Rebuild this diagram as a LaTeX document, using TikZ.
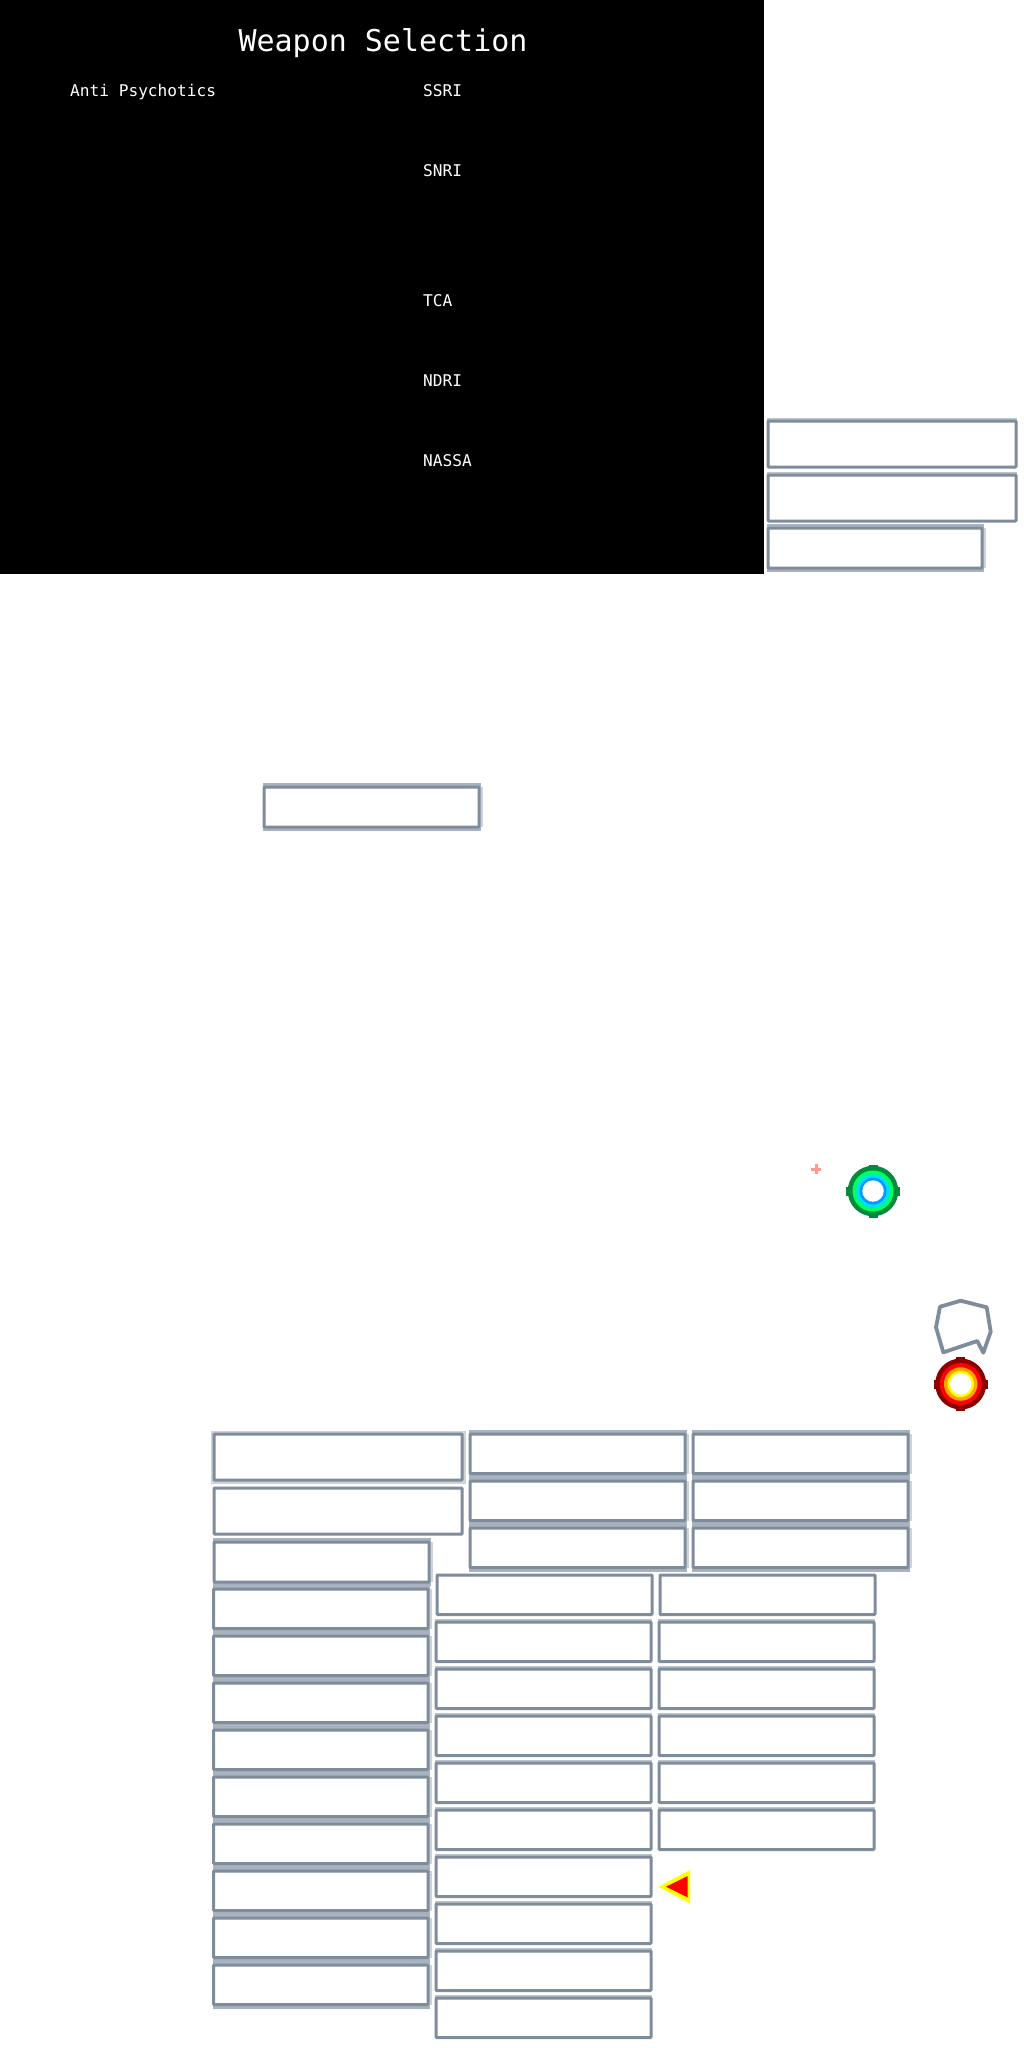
\documentclass[tikz,border=0pt]{standalone}
\usepackage{fontspec}
\setmonofont{DejaVu Sans Mono}
\definecolor{edgeblue}{HTML}{7F8C9C}
\definecolor{halodark}{HTML}{A8B3BF}
\definecolor{halolight}{HTML}{CCD3DA}
\definecolor{halomid}{HTML}{BCC5CE}
\definecolor{plusred}{HTML}{FF9A90}
\definecolor{tgdark}{HTML}{008C3C}
\definecolor{tgbright}{HTML}{00FF66}
\definecolor{tgcyan}{HTML}{00DDFF}
\definecolor{tgblue}{HTML}{0099FF}
\definecolor{trdark}{HTML}{8B0000}
\definecolor{trred}{HTML}{FF0000}
\definecolor{trorange}{HTML}{FFA500}
\definecolor{tryellow}{HTML}{FFFF00}
\tikzset{
  boxnode/.style={draw=edgeblue,fill=white,line width=3pt,rectangle,inner sep=0pt,outer sep=0pt,rounded corners=0.8pt},
  labeltext/.style={anchor=base west,inner sep=0pt,text=white,font=\ttfamily\fontsize{16.15}{18}\selectfont},
  titletext/.style={anchor=base,inner sep=0pt,text=white,font=\ttfamily\fontsize{30}{36}\selectfont},
  disc/.style={circle,inner sep=0pt,outer sep=0pt},
  tick/.style={line width=9pt},
  outline/.style={draw=edgeblue,line width=3.8pt,line join=round,fill=white}
}
% strong halo: dark bands above and below, pale band at right
\newcommand{\boxS}[5]{%
  \fill[halolight] (#2,#3) rectangle (#4+3.5,#5);
  \fill[halodark] (#2-1,#3-4) rectangle (#4+2,#3);
  \fill[halodark] (#2-1,#5) rectangle (#4+2,#5+4);
  \node[boxnode,minimum width={(#4-#2)*1pt},minimum height={(#5-#3)*1pt}] (#1) at ({(#2+#4)/2},{(#3+#5)/2}) {};}
% mild halo: band above only
\newcommand{\boxM}[5]{%
  \fill[halomid] (#2-1,#3-3.5) rectangle (#4+1,#3);
  \node[boxnode,minimum width={(#4-#2)*1pt},minimum height={(#5-#3)*1pt}] (#1) at ({(#2+#4)/2},{(#3+#5)/2}) {};}
% pale halo all round
\newcommand{\boxP}[5]{%
  \fill[halolight] (#2-3.5,#3-3.5) rectangle (#4+3.5,#5+3.5);
  \node[boxnode,minimum width={(#4-#2)*1pt},minimum height={(#5-#3)*1pt}] (#1) at ({(#2+#4)/2},{(#3+#5)/2}) {};}
% no halo
\newcommand{\boxN}[5]{%
  \node[boxnode,minimum width={(#4-#2)*1pt},minimum height={(#5-#3)*1pt}] (#1) at ({(#2+#4)/2},{(#3+#5)/2}) {};}
\begin{document}
\begin{tikzpicture}[x=1pt,y=-1pt]
\useasboundingbox (0,0) rectangle (1024,2048);
\fill[white] (0,0) rectangle (1024,2048);
\fill[black] (0,0) rectangle (764,574);
\node[titletext] (title) at (383,51) {Weapon Selection};
\node[labeltext] (anti) at (70,96) {Anti Psychotics};
\node[labeltext] (ssri) at (423,96) {SSRI};
\node[labeltext] (snri) at (423,176) {SNRI};
\node[labeltext] (tca) at (423,306) {TCA};
\node[labeltext] (ndri) at (423,386) {NDRI};
\node[labeltext] (nassa) at (423,466) {NASSA};
% top right
\boxM{tr1}{768}{421}{1016}{467}
\boxM{tr2}{768}{475}{1016}{521}
\boxS{tr3}{768}{528}{982}{568}
% middle
\boxS{mid}{264}{787}{479}{827}
% left column
\boxP{la}{214}{1434}{462}{1480}
\boxN{lb}{214}{1488}{462}{1534}
\boxS{lc}{214}{1542}{429}{1582}
\foreach \i/\t in {1/1589,2/1636,3/1683,4/1730,5/1777,6/1824,7/1871,8/1918,9/1965}{
  \boxS{l\i}{213.5}{\t}{428}{\t+39.5}
}
% top two columns
\foreach \i/\t in {1/1434,2/1481,3/1528}{
  \boxS{ta\i}{470}{\t}{685}{\t+39.5}
  \boxS{tb\i}{693}{\t}{908}{\t+39.5}
}
% second tier, middle column
\boxN{ma0}{437}{1575}{652}{1614.5}
\foreach \i/\t in {1/1622,2/1669,3/1716,4/1763,5/1810,6/1857,7/1904,8/1951,9/1998}{
  \boxM{ma\i}{436}{\t}{651}{\t+39.5}
}
% second tier, right column
\boxN{mb0}{660}{1575}{875}{1614.5}
\foreach \i/\t in {1/1622,2/1669,3/1716,4/1763,5/1810}{
  \boxM{mb\i}{659}{\t}{874}{\t+39.5}
}
% small plus
\draw[draw=plusred,line width=3pt] (811,1169) -- (821,1169) (816,1164) -- (816,1174);
% green target
\draw[tick,draw=tgdark] (873,1164.5) -- (873,1217.5) (846,1191) -- (900,1191);
\node[disc,fill=tgdark,minimum size=50.5pt] (gt1) at (873,1191) {};
\node[disc,fill=tgbright,minimum size=41pt] (gt2) at (gt1) {};
\node[disc,fill=tgcyan,minimum size=33pt] (gt3) at (gt1) {};
\node[disc,fill=tgblue,minimum size=27pt] (gt4) at (gt1) {};
\node[disc,fill=white,minimum size=21.5pt] (gt5) at (gt1) {};
% outline polygon
\draw[outline] (940,1306.7) -- (960.7,1300.7) -- (986.7,1307.3) -- (990.7,1331.7) -- (983.3,1352.7) -- (977.3,1341) -- (943.3,1352.3) -- (936,1327.3) -- cycle;
% red target
\draw[tick,draw=trdark] (960.7,1357) -- (960.7,1411) (934,1384) -- (988,1384);
\node[disc,fill=trdark,minimum size=51pt] (rt1) at (960.7,1384) {};
\node[disc,fill=trred,minimum size=42pt] (rt2) at (rt1) {};
\node[disc,fill=trorange,minimum size=33.5pt] (rt3) at (rt1) {};
\node[disc,fill=tryellow,minimum size=26.5pt] (rt4) at (rt1) {};
\node[disc,fill=white,minimum size=21.5pt] (rt5) at (rt1) {};
% triangle
\fill[tryellow] (658.3,1886.7) -- (690,1870) -- (690,1903.3) -- cycle;
\fill[trred] (666,1886.7) -- (687.7,1876) -- (687.7,1897.3) -- cycle;
\end{tikzpicture}
\end{document}
